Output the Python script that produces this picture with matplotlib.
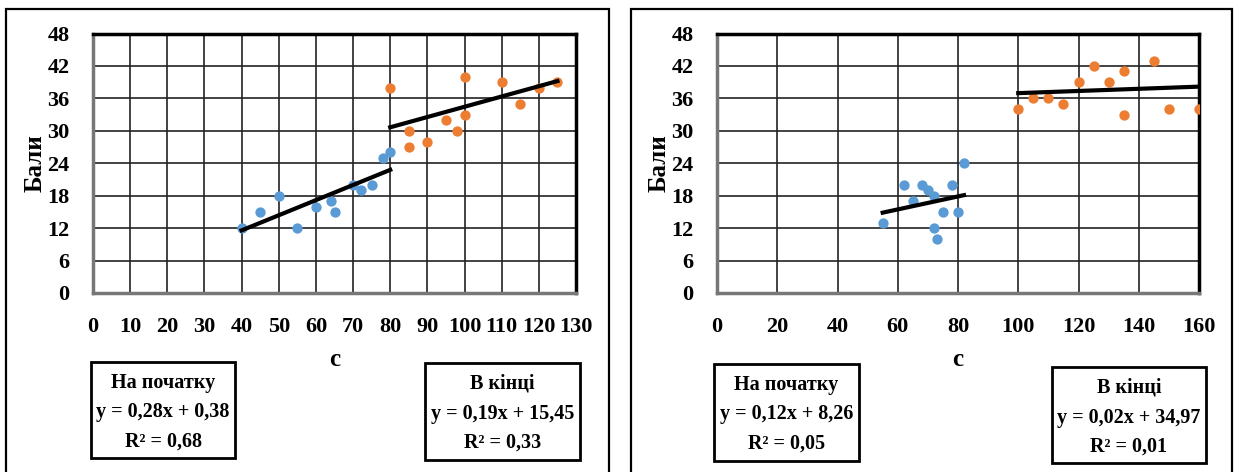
import numpy as np
import matplotlib.pyplot as plt
from matplotlib.patches import Rectangle

W, H = 1235, 472
FONT = 'Liberation Serif'

# left chart
l_start_x = [40, 45, 50, 55, 60, 64, 65, 70, 72, 75, 78, 80]
l_start_y = [12, 15, 18, 12, 16, 17, 15, 20, 19, 20, 25, 26]
l_end_x = [80, 85, 85, 90, 95, 98, 100, 100, 110, 115, 120, 125]
l_end_y = [38, 30, 27, 28, 32, 30, 33, 40, 39, 35, 38, 39]
l_fit = [(0.28, 0.38), (0.19, 15.45)]
l_labels = [['На початку', 'y = 0,28x + 0,38', 'R² = 0,68'],
            ['В кінці', 'y = 0,19x + 15,45', 'R² = 0,33']]

# right chart
r_start_x = [55, 62, 65, 68, 70, 72, 72, 73, 75, 78, 80, 82]
r_start_y = [13, 20, 17, 20, 19, 18, 12, 10, 15, 20, 15, 24]
r_end_x = [100, 105, 110, 115, 120, 125, 130, 135, 135, 145, 150, 160]
r_end_y = [34, 36, 36, 35, 39, 42, 39, 41, 33, 43, 34, 34]
r_fit = [(0.12, 8.26), (0.02, 34.97)]
r_labels = [['На початку', 'y = 0,12x + 8,26', 'R² = 0,05'],
            ['В кінці', 'y = 0,02x + 34,97', 'R² = 0,01']]

BLUE = '#5b9bd5'
ORANGE = '#ed7d31'


def px(x0, y0, x1, y1):
    # pixel box -> figure fraction rect
    return [x0 / W, 1 - y1 / H, (x1 - x0) / W, (y1 - y0) / H]


fig = plt.figure(figsize=(W / 100, H / 100), dpi=100)

# panel frames
for x0, x1 in [(6, 609), (631, 1232)]:
    fig.patches.append(Rectangle((x0 / W, -0.05), (x1 - x0) / W, 1 - 9 / H + 0.05,
                                 transform=fig.transFigure, fill=False,
                                 lw=1.6, ec='black'))


def panel(rect, xmax, xstep, sx, sy, ex, ey, fits, labels, xlab_px, boxes):
    ax = fig.add_axes(px(*rect))
    ax.scatter(sx, sy, s=55, color=BLUE, zorder=3, lw=0)
    ax.scatter(ex, ey, s=55, color=ORANGE, zorder=3, lw=0)
    for (k, b), xs in zip(fits, [sx, ex]):
        xx = np.array([min(xs), max(xs)])
        ax.plot(xx, k * xx + b, color='black', lw=3, zorder=4)
    ax.set_xlim(0, xmax)
    ax.set_ylim(0, 48)
    ax.set_xticks(np.arange(0, xmax + 1, xstep))
    ax.set_yticks(np.arange(0, 49, 6))
    ax.grid(True, color='#222222', lw=1.2)
    ax.set_axisbelow(True)
    for s in ['top', 'right']:
        ax.spines[s].set_linewidth(2.5)
        ax.spines[s].set_color('black')
    for s in ['left', 'bottom']:
        ax.spines[s].set_linewidth(2.5)
        ax.spines[s].set_color('#777777')
    ax.tick_params(length=0, labelsize=16)
    ax.tick_params(axis='y', pad=17)
    ax.tick_params(axis='x', pad=17)
    for t in ax.get_xticklabels() + ax.get_yticklabels():
        t.set_fontfamily(FONT)
        t.set_fontweight('bold')
    ax.set_ylabel('Бали', fontfamily=FONT, fontweight='bold', fontsize=18)
    ax.yaxis.set_label_coords(-46 / (rect[2] - rect[0]), 0.5)
    fig.text(xlab_px[0] / W, 1 - xlab_px[1] / H, 'с', fontfamily=FONT,
             fontweight='bold', fontsize=18, ha='center', va='center')
    for (x0, y0, x1, y1), lines in zip(boxes, labels):
        fig.patches.append(Rectangle((x0 / W, 1 - y1 / H), (x1 - x0) / W, (y1 - y0) / H,
                                     transform=fig.transFigure, fill=False,
                                     lw=2, ec='black'))
        cx = (x0 + x1) / 2
        for i, line in enumerate(lines):
            cy = y0 + 21 + i * 29.5
            fig.text(cx / W, 1 - cy / H, line, fontfamily=FONT, fontweight='bold',
                     fontsize=14.5, ha='center', va='center')
    return ax


panel((93, 33.5, 576, 293), 130, 10, l_start_x, l_start_y, l_end_x, l_end_y,
      l_fit, l_labels, (335, 360), [(91, 362, 235, 458), (425, 363, 580, 460)])
panel((717, 33.5, 1199, 293), 160, 20, r_start_x, r_start_y, r_end_x, r_end_y,
      r_fit, r_labels, (958, 360), [(714, 364, 859, 461), (1052, 367, 1206, 463)])

fig.savefig('out.png', dpi=100)
